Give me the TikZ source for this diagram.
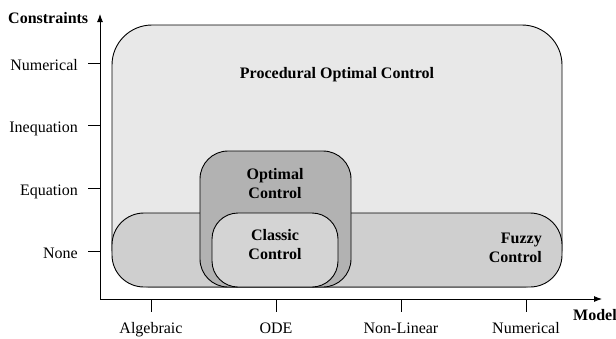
\documentclass[tikz,border=0pt]{standalone}
\usepackage{fontspec}
\setmainfont{Liberation Serif}
\usetikzlibrary{arrows.meta}

\definecolor{procgray}{gray}{0.91}
\definecolor{fuzzygray}{gray}{0.81}
\definecolor{optgray}{gray}{0.70}
\definecolor{classgray}{gray}{0.83}

\tikzset{
  region/.style={draw, line width=0.9pt, inner sep=0pt, outer sep=0pt},
  title/.style={font=\fontsize{16}{19}\selectfont\bfseries, align=center, inner sep=0pt},
  ticklabel/.style={font=\fontsize{16}{19}\selectfont, inner sep=0pt},
  axis/.style={line width=0.9pt},
}

\begin{document}
\begin{tikzpicture}[x=1pt, y=-1pt]
    \useasboundingbox (0,0) rectangle (616,338);

    % the four control families, back to front
    \node[region, fill=procgray, rounded corners=40pt,
          minimum width=450pt, minimum height=262pt] (proc) at (337,156) {};
    \node[region, fill=fuzzygray, rounded corners=32pt,
          minimum width=450pt, minimum height=74pt] (fuzzy) at (337,250) {};
    \node[region, fill=optgray, rounded corners=28pt,
          minimum width=151pt, minimum height=136pt] (optimal) at (275.5,219) {};
    \node[region, fill=classgray, rounded corners=26pt,
          minimum width=126pt, minimum height=74pt] (classic) at (275,250) {};

    \node[title, anchor=base] (proclabel) at (337,78) {Procedural Optimal Control};
    \node[title] (optlabel) at (275,184) {Optimal\\Control};
    \node[title] (classlabel) at (275,245) {Classic\\Control};
    \node[title, align=right, anchor=east] (fuzzylabel) at (542,248) {Fuzzy\\Control};

    % axes
    \coordinate (origin) at (100,299);
    \coordinate (ytip) at (100,14);
    \coordinate (xtip) at (602,299);
    \draw[axis, {Latex[length=8pt,width=6pt]}-{Latex[length=8pt,width=6pt]}]
        (ytip) -- (origin) -- (xtip);

    \node[title, anchor=base west] (ytitle) at (8,23) {Constraints};
    \node[title, anchor=base west] (xtitle) at (573,320) {Model};

    % ticks on the constraints axis
    \foreach \y/\name in {63/Numerical,125.7/Inequation,188.3/Equation,251/None} {
        \draw[axis] (88,\y) -- (100,\y);
        \node[ticklabel, anchor=base east] (ylab-\y) at (78,\y+7) {\name};
    }

    % ticks on the model axis
    \foreach \x/\name in {151/Algebraic,276/ODE,401/Non-Linear,526/Numerical} {
        \draw[axis] (\x,299) -- (\x,312);
        \node[ticklabel, anchor=base] (xlab-\x) at (\x,333) {\name};
    }
\end{tikzpicture}
\end{document}
